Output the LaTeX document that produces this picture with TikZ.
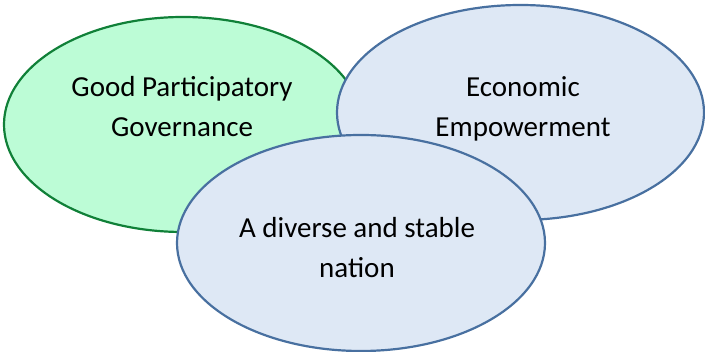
\documentclass[tikz,border=0pt]{standalone}
\usepackage{fontspec}
\setmainfont{Carlito}
\usetikzlibrary{shapes.geometric}
\definecolor{greenfill}{RGB}{188,252,214}
\definecolor{greenline}{RGB}{16,128,56}
\definecolor{bluefill}{RGB}{222,232,245}
\definecolor{blueline}{RGB}{72,112,160}
\begin{document}
\begin{tikzpicture}[x=1pt,y=-1pt,
  bubble/.style={ellipse,draw=blueline,fill=bluefill,line width=2.2pt,inner sep=0pt},
  txt/.style={align=center,inner sep=0pt,font=\fontsize{29}{40}\selectfont}]
\useasboundingbox (0,0) rectangle (705,352);
\node[bubble,draw=greenline,fill=greenfill,minimum width=358pt,minimum height=215pt] (gov) at (183,124.5) {};
\node[txt] (govtext) at (182,107) {Good Participatory\\Governance};
\node[bubble,minimum width=367pt,minimum height=215pt] (econ) at (520.5,112.5) {};
\node[txt] (econtext) at (523,109) {Economic\\Empowerment};
\node[bubble,minimum width=368pt,minimum height=216pt] (nation) at (361,243) {};
\node[txt] (nationtext) at (357,248) {A diverse and stable\\nation};
\end{tikzpicture}
\end{document}
